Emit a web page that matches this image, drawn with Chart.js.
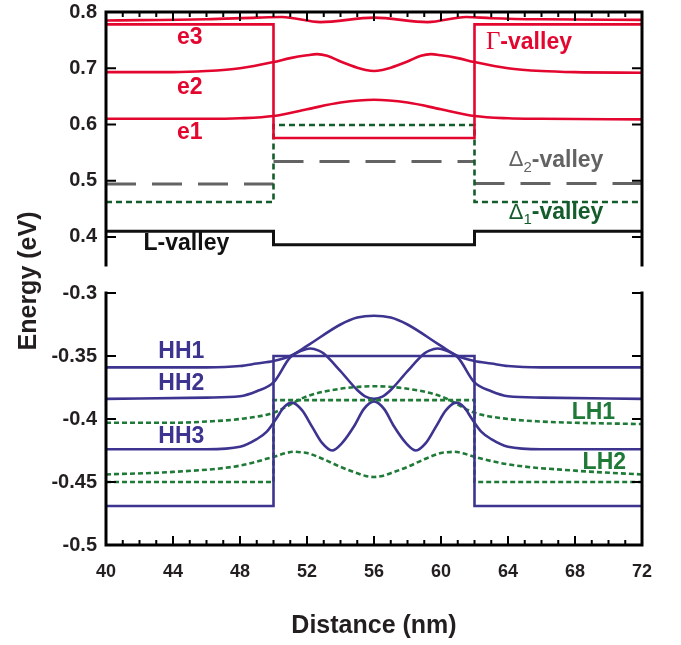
<!DOCTYPE html>
<html>
<head>
<meta charset="utf-8">
<title>Band diagram</title>
<script src="https://cdn.jsdelivr.net/npm/chart.js@4.4.1/dist/chart.umd.min.js"></script>
<style>
  html, body { margin: 0; padding: 0; background: #fff; }
  #wrap { position: relative; width: 681px; height: 645px; }
  #wrap canvas { position: absolute; left: 0; top: 0; }
</style>
</head>
<body>
<div id="wrap">
  <canvas id="topChart" width="681" height="645"></canvas>
  <canvas id="bottomChart" width="681" height="645"></canvas>
</div>
<script>
// conduction band (top panel)
const edgeX = [40, 50, 50, 62, 62, 72];
const gammaEdge = [0.778, 0.778, 0.576, 0.576, 0.778, 0.778];
const delta1Edge = [0.462, 0.462, 0.599, 0.599, 0.462, 0.462];
const lEdge = [0.410, 0.410, 0.386, 0.386, 0.410, 0.410];
const delta2X = [40, 50, 50, 50, 62, 62, 62, 72];
const delta2Edge = [0.494, 0.494, null, 0.534, 0.534, null, 0.495, 0.495];

const e1X = [40, 46, 48, 50, 52, 54, 56, 58, 60, 62, 64, 66, 72];
const e1Y = [0.610, 0.610, 0.611, 0.615, 0.627, 0.639, 0.644, 0.639, 0.627, 0.615, 0.611, 0.610, 0.609];
const e2X = [40, 44, 46, 48, 50, 51, 52, 52.6, 53.2, 54, 55, 55.5, 56, 56.5, 57, 58, 58.8, 59.4, 60, 61, 62, 64, 66, 68, 72];
const e2Y = [0.693, 0.693, 0.695, 0.700, 0.711, 0.718, 0.723, 0.725, 0.722, 0.712, 0.701, 0.697, 0.695, 0.697, 0.701, 0.712, 0.722, 0.725, 0.723, 0.718, 0.711, 0.700, 0.695, 0.693, 0.692];
const e3X = [40, 46, 49, 50.5, 52.8, 56, 59.2, 61.5, 63, 66, 72];
const e3Y = [0.785, 0.787, 0.790, 0.791, 0.782, 0.790, 0.782, 0.791, 0.789, 0.787, 0.786];

// valence band (bottom panel)
const hhEdge = [-0.469, -0.469, -0.350, -0.350, -0.469, -0.469];
const lhEdge = [-0.450, -0.450, -0.385, -0.385, -0.450, -0.450];

const hh1X = [40, 46, 48, 49, 50, 51, 52, 54, 55, 56, 57, 58, 60, 61, 62, 63, 64, 66, 72];
const hh1Y = [-0.359, -0.359, -0.358, -0.356, -0.354, -0.350, -0.342, -0.325, -0.3195, -0.318, -0.3195, -0.325, -0.342, -0.350, -0.354, -0.356, -0.358, -0.359, -0.359];
const hh2X = [40, 46, 48, 49, 50, 51, 51.7, 52.2, 52.7, 53, 54, 55, 55.5, 56, 56.5, 57, 58, 59, 59.3, 59.8, 60.3, 61, 62, 63, 64, 66, 72];
const hh2Y = [-0.384, -0.383, -0.382, -0.378, -0.371, -0.351, -0.3457, -0.344, -0.3457, -0.348, -0.362, -0.377, -0.3823, -0.384, -0.3823, -0.377, -0.362, -0.348, -0.3457, -0.344, -0.3457, -0.351, -0.371, -0.378, -0.382, -0.383, -0.384];
const hh3X = [40, 46, 48, 49, 49.6, 50.2, 50.6, 51.1, 51.7, 52.3, 52.9, 53.5, 54.1, 54.8, 55.4, 56, 56.6, 57.2, 57.9, 58.5, 59.1, 59.7, 60.3, 60.9, 61.4, 61.8, 62.4, 63, 64, 66, 72];
const hh3Y = [-0.424, -0.424, -0.422, -0.416, -0.410, -0.399, -0.391, -0.387, -0.393, -0.406, -0.419, -0.425, -0.419, -0.406, -0.392, -0.386, -0.392, -0.406, -0.419, -0.425, -0.419, -0.406, -0.393, -0.387, -0.391, -0.399, -0.410, -0.416, -0.422, -0.424, -0.424];
const lh1X = [40, 44, 46, 48, 50, 52, 54, 56, 58, 60, 62, 64, 66, 68, 72];
const lh1Y = [-0.403, -0.403, -0.402, -0.400, -0.395, -0.382, -0.376, -0.374, -0.376, -0.382, -0.395, -0.400, -0.402, -0.403, -0.404];
const lh2X = [40, 44, 48, 50, 50.7, 51.2, 51.7, 52, 53, 54, 55, 55.5, 56, 56.5, 57, 58, 59, 60, 60.3, 60.8, 61.3, 62, 64, 68, 72];
const lh2Y = [-0.444, -0.442, -0.437, -0.430, -0.4272, -0.426, -0.4265, -0.427, -0.432, -0.438, -0.443, -0.4452, -0.446, -0.4452, -0.443, -0.438, -0.432, -0.427, -0.4265, -0.426, -0.4272, -0.430, -0.436, -0.441, -0.444];

// axis ticks
const topTicks = [0.4, 0.5, 0.6, 0.7, 0.8];
const topTickLabels = ['0.4', '0.5', '0.6', '0.7', '0.8'];
const bottomTicks = [-0.5, -0.45, -0.4, -0.35, -0.3];
const bottomTickLabels = ['-0.5', '-0.45', '-0.4', '-0.35', '-0.3'];
const xTickLabels = ['40', '44', '48', '52', '56', '60', '64', '68', '72'];

const RED = '#e3062f';
const PURPLE = '#3d3490';
const GREEN = '#1f7a37';
const DKGREEN = '#145c2b';
const GRAY = '#636363';
const FONT = '"Liberation Sans", Arial, sans-serif';

function pts(xs, ys) {
  return xs.map((x, i) => ({ x: x, y: ys[i] }));
}

function curve(xs, ys, color, dash) {
  return {
    data: pts(xs, ys),
    borderColor: color,
    borderWidth: 2.6,
    borderDash: dash || [],
    pointRadius: 0,
    cubicInterpolationMode: 'monotone',
    fill: false
  };
}

function step(xs, ys, color, dash, width) {
  return {
    data: pts(xs, ys),
    borderColor: color,
    borderWidth: width || 2.6,
    borderDash: dash || [],
    pointRadius: 0,
    tension: 0,
    spanGaps: false,
    fill: false
  };
}

// frame with inward ticks; one side left open for the broken axis
const framePlugin = {
  id: 'frame',
  afterDatasetsDraw(chart, args, opts) {
    const { ctx, chartArea: a, scales: { x, y } } = chart;
    const edgeY = opts.edge === 'top' ? a.top : a.bottom;
    const dir = opts.edge === 'top' ? 1 : -1;
    ctx.save();
    ctx.strokeStyle = '#000';
    ctx.lineWidth = 3;
    ctx.lineCap = 'square';
    ctx.beginPath();
    ctx.moveTo(a.left, a.top);
    ctx.lineTo(a.left, a.bottom);
    ctx.moveTo(a.right, a.top);
    ctx.lineTo(a.right, a.bottom);
    ctx.moveTo(a.left, edgeY);
    ctx.lineTo(a.right, edgeY);
    ctx.stroke();

    ctx.lineWidth = 2;
    ctx.lineCap = 'butt';
    ctx.beginPath();
    for (let v = x.min; v <= x.max; v++) {
      const px = x.getPixelForValue(v);
      const len = (v - x.min) % 4 === 0 ? 9 : 5;
      ctx.moveTo(px, edgeY);
      ctx.lineTo(px, edgeY + dir * len);
    }
    y.ticks.forEach(t => {
      const py = y.getPixelForValue(t.value);
      ctx.moveTo(a.left, py);
      ctx.lineTo(a.left + 10, py);
      ctx.moveTo(a.right, py);
      ctx.lineTo(a.right - 10, py);
    });
    ctx.stroke();
    ctx.restore();
  }
};

// in-plot text, placed in data units
function drawPieces(ctx, pieces, cx, cy) {
  let total = 0;
  pieces.forEach(p => { ctx.font = p.font; p.w = ctx.measureText(p.t).width; total += p.w; });
  let px = cx - total / 2;
  ctx.textAlign = 'left';
  ctx.textBaseline = 'middle';
  pieces.forEach(p => {
    ctx.font = p.font;
    ctx.fillStyle = p.color;
    ctx.fillText(p.t, px, cy + (p.dy || 0));
    px += p.w;
  });
}

const labelPlugin = {
  id: 'labels',
  afterDraw(chart, args, opts) {
    const { ctx, scales: { x, y } } = chart;
    ctx.save();
    (opts.items || []).forEach(item => {
      drawPieces(ctx, item.pieces, x.getPixelForValue(item.x), y.getPixelForValue(item.y));
    });
    (opts.titles || []).forEach(t => {
      ctx.save();
      ctx.translate(t.px, t.py);
      ctx.rotate(t.rot || 0);
      ctx.font = 'bold 25px ' + FONT;
      ctx.fillStyle = '#231f20';
      ctx.textAlign = 'center';
      ctx.textBaseline = 'middle';
      ctx.fillText(t.text, 0, 0);
      ctx.restore();
    });
    ctx.restore();
  }
};

function bold(t, color) {
  return { t: t, font: 'bold 23px ' + FONT, color: color };
}

function yScale(min, max, ticks, labels) {
  return {
    type: 'linear',
    min: min,
    max: max,
    afterBuildTicks: s => { s.ticks = ticks.map(v => ({ value: v })); },
    afterFit: s => {
      s.width = 106;
      s.paddingTop = 0;
      s.paddingBottom = 0;
    },
    grid: { display: false, drawTicks: false },
    border: { display: false },
    ticks: {
      padding: 9,
      color: '#231f20',
      font: { family: FONT, weight: 'bold', size: 20 },
      callback: (v, i) => labels[i]
    }
  };
}

const common = {
  responsive: false,
  animation: false,
  events: [],
  plugins: { legend: { display: false }, tooltip: { enabled: false } }
};

new Chart(document.getElementById('topChart'), {
  type: 'line',
  data: {
    datasets: [
      step(edgeX, gammaEdge, RED),
      step(edgeX, delta1Edge, DKGREEN, [6, 4]),
      step(delta2X, delta2Edge, GRAY, [30, 16], 3),
      step(edgeX, lEdge, '#111', [], 3),
      curve(e1X, e1Y, RED),
      curve(e2X, e2Y, RED),
      curve(e3X, e3Y, RED)
    ]
  },
  options: Object.assign({}, common, {
    layout: { padding: { top: 12, bottom: 380, left: 0, right: 39 } },
    scales: {
      x: {
        type: 'linear', position: 'top', min: 40, max: 72,
        afterFit: s => { s.height = 0; },
        grid: { display: false, drawTicks: false },
        border: { display: false },
        ticks: { display: false }
      },
      y: yScale(0.35, 0.8, topTicks, topTickLabels)
    },
    plugins: Object.assign({}, common.plugins, {
      frame: { edge: 'top' },
      labels: {
        items: [
          { x: 45.0, y: 0.755, pieces: [bold('e3', RED)] },
          { x: 45.0, y: 0.666, pieces: [bold('e2', RED)] },
          { x: 45.0, y: 0.586, pieces: [bold('e1', RED)] },
          { x: 65.25, y: 0.746, pieces: [{ t: 'Γ', font: '25px "Liberation Serif", serif', color: RED }, bold('-valley', RED)] },
          { x: 66.87, y: 0.536, pieces: [
            { t: 'Δ', font: '22px ' + FONT, color: GRAY },
            { t: '2', font: '15px ' + FONT, color: GRAY, dy: 7 },
            bold('-valley', GRAY)] },
          { x: 66.87, y: 0.443, pieces: [
            { t: 'Δ', font: '22px ' + FONT, color: DKGREEN },
            { t: '1', font: '15px ' + FONT, color: DKGREEN, dy: 7 },
            bold('-valley', DKGREEN)] },
          { x: 44.8, y: 0.3875, pieces: [bold('L-valley', '#111')] }
        ]
      }
    })
  }),
  plugins: [framePlugin, labelPlugin]
});

new Chart(document.getElementById('bottomChart'), {
  type: 'line',
  data: {
    datasets: [
      step(edgeX, hhEdge, PURPLE),
      step(edgeX, lhEdge, GREEN, [5, 3]),
      curve(hh1X, hh1Y, PURPLE),
      curve(hh2X, hh2Y, PURPLE),
      curve(hh3X, hh3Y, PURPLE),
      curve(lh1X, lh1Y, GREEN, [5, 3]),
      curve(lh2X, lh2Y, GREEN, [5, 3])
    ]
  },
  options: Object.assign({}, common, {
    layout: { padding: { top: 293, bottom: 0, left: 0, right: 39 } },
    scales: {
      x: {
        type: 'linear', position: 'bottom', min: 40, max: 72,
        afterFit: s => { s.height = 100; },
        grid: { display: false, drawTicks: false },
        border: { display: false },
        ticks: {
          stepSize: 4,
          padding: 16,
          maxRotation: 0,
          color: '#231f20',
          font: { family: FONT, weight: 'bold', size: 18 },
          callback: (v, i) => xTickLabels[i]
        }
      },
      y: yScale(-0.5, -0.3, bottomTicks, bottomTickLabels)
    },
    plugins: Object.assign({}, common.plugins, {
      frame: { edge: 'bottom' },
      labels: {
        items: [
          { x: 44.5, y: -0.3465, pieces: [bold('HH1', PURPLE)] },
          { x: 44.5, y: -0.3718, pieces: [bold('HH2', PURPLE)] },
          { x: 44.5, y: -0.4139, pieces: [bold('HH3', PURPLE)] },
          { x: 69.1, y: -0.3948, pieces: [bold('LH1', GREEN)] },
          { x: 69.75, y: -0.4345, pieces: [bold('LH2', GREEN)] }
        ],
        titles: [
          { text: 'Distance (nm)', px: 374, py: 626 },
          { text: 'Energy (eV)', px: 29, py: 281, rot: -Math.PI / 2 }
        ]
      }
    })
  }),
  plugins: [framePlugin, labelPlugin]
});
</script>
</body>
</html>
